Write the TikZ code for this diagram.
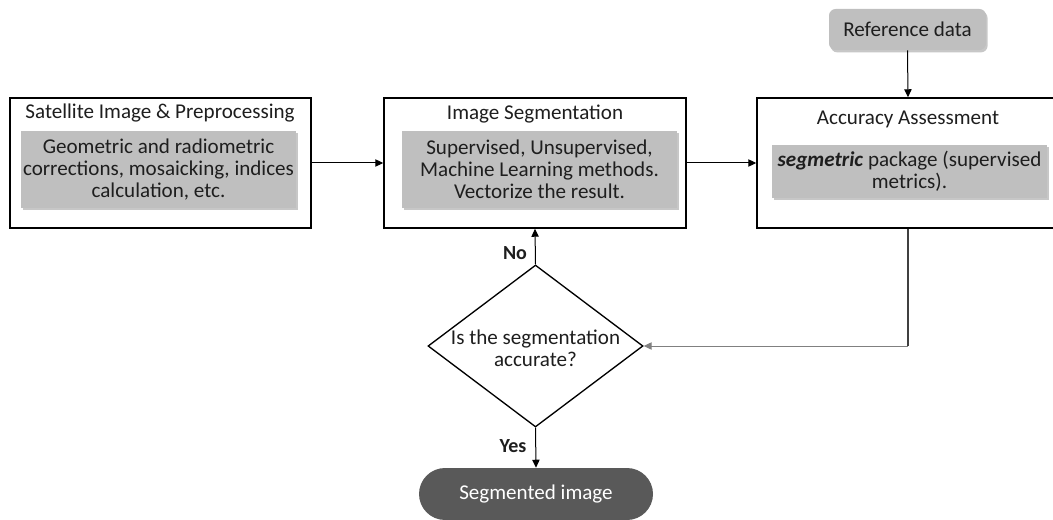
\documentclass[tikz,border=0pt]{standalone}
\usepackage{fontspec}
\setmainfont{Carlito}
\usetikzlibrary{shapes.geometric,shapes.misc,shadows,arrows.meta}
\definecolor{boxgray}{RGB}{191,191,191}
\definecolor{darkfill}{RGB}{89,89,89}
\definecolor{linegray}{RGB}{128,128,128}
\definecolor{linedark}{RGB}{64,64,64}
\definecolor{textcol}{RGB}{30,30,30}
\tikzset{
  txt/.style={font=\fontsize{15.8pt}{16.4pt}\selectfont, align=center, inner sep=0pt, text=textcol},
  outer/.style={draw=black, line width=1.1pt, fill=white, inner sep=0pt},
  sh/.style={drop shadow={shadow xshift=1.2pt, shadow yshift=-1.8pt, opacity=0.22, fill=black}},
  inner/.style={fill=boxgray, inner sep=0pt, sh},
  conn/.style={draw=black, line width=0.75pt, -{Triangle[length=6pt,width=5.5pt]}},
  lbl/.style={font=\fontsize{15pt}{16.3pt}\selectfont\bfseries, inner sep=0pt, text=textcol}
}
\begin{document}
\begin{tikzpicture}[x=0.75pt,y=-0.75pt]
\useasboundingbox (0,0) rectangle (1053,520);
\clip (0,0) rectangle (1053,520);
% outer boxes
\node[outer, minimum width=225.75pt, minimum height=97.5pt] (box1) at (160.5,163) {};
\node[outer, minimum width=226.5pt, minimum height=97.5pt] (box2) at (535,163) {};
\node[outer, minimum width=226.5pt, minimum height=97.5pt] (box3) at (908,163) {};
% titles
\node[txt] (t1) at (160,113) {Satellite Image \& Preprocessing};
\node[txt] (t2) at (535,114) {Image Segmentation};
\node[txt] (t3) at (908,119) {Accuracy Assessment};
% inner boxes
\node[inner, minimum width=206.25pt, minimum height=57.75pt] (in1) at (158.5,169.5) {};
\node[txt] (in1t) at (in1) {Geometric and radiometric\\corrections, mosaicking, indices\\calculation, etc.};
\node[inner, minimum width=206.25pt, minimum height=57.75pt] (in2) at (539.5,169.5) {};
\node[txt] (in2t) at (in2) {Supervised, Unsupervised,\\Machine Learning methods.\\Vectorize the result.};
\node[inner, minimum width=206.25pt, minimum height=39.75pt] (in3) at (909.5,171.5) {};
\node[txt] (in3t) at (in3) {\textbf{\textit{segmetric}} package (supervised\\metrics).};
% reference data
\node[fill=boxgray, rounded corners=5pt, minimum width=117.75pt, minimum height=30.75pt, inner sep=0pt, sh] (ref) at (907.5,29.5) {};
\node[txt] (reft) at (ref) {Reference data};
% diamond
\node[diamond, draw=black, line width=1pt, fill=white, minimum width=161.25pt, minimum height=121.5pt, inner sep=0pt] (dia) at (535.5,346) {};
\node[txt] (diat) at (535.5,348) {Is the segmentation\\accurate?};
% segmented image
\node[rounded rectangle, fill=darkfill, minimum width=175.5pt, minimum height=39pt, inner sep=0pt] (seg) at (536,494) {};
\node[txt, text=white] (segt) at (seg) {Segmented image};
% connectors
\draw[conn] (box1.east) -- (box2.west);
\draw[conn] (box2.east) -- (box3.west);
\draw[conn] (ref.south) -- (box3.north);
\coordinate (corner) at (box3.south |- dia.east);
\draw[draw=linedark, line width=0.9pt] (box3.south) -- (corner);
\draw[conn, draw=linegray] (corner) -- (dia.east);
\draw[conn] (dia.north) -- (box2.south);
\draw[conn] (dia.south) -- (seg.north);
\node[lbl] (no) at (515,253) {No};
\node[lbl] (yes) at (513,446) {Yes};
\end{tikzpicture}
\end{document}
